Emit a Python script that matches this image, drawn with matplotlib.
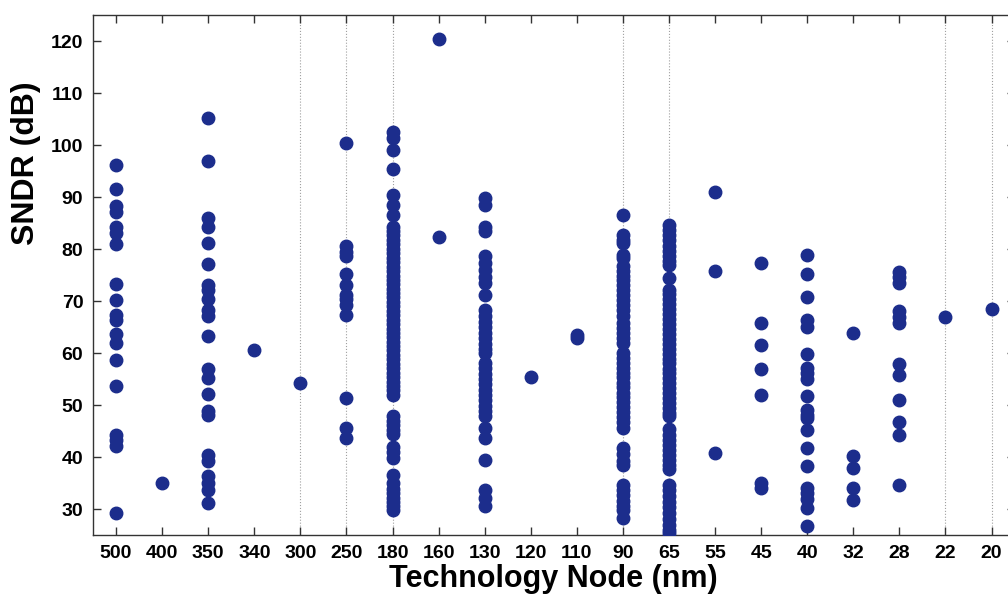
import matplotlib
matplotlib.use('Agg')
import matplotlib.pyplot as plt

plt.rcParams['font.family'] = ['Liberation Sans', 'DejaVu Sans']
plt.rcParams['font.weight'] = 'bold'

nodes = ['500', '400', '350', '340', '300', '250', '180', '160', '130', '120',
         '110', '90', '65', '55', '45', '40', '32', '28', '22', '20']
grid_nodes = ['300', '250', '180', '90', '65', '22', '20']

sndr_500 = [96.1, 91.5, 88.2, 87.2, 84.2, 83.1, 81.0, 73.3, 70.1, 67.4, 66.4, 63.7,
            62.0, 58.7, 53.7, 44.3, 43.3, 42.2, 29.2]
sndr_400 = [35.0]
sndr_350 = [105.2, 97.0, 86.0, 84.2, 81.2, 77.2, 73.1, 72.2, 70.3, 68.3, 67.1, 63.2,
            57.0, 55.2, 52.2, 48.8, 48.1, 40.4, 39.2, 36.3, 35.0, 33.7, 31.2]
sndr_340 = [60.5]
sndr_300 = [54.2]
sndr_250 = [100.4, 80.5, 79.5, 78.6, 75.2, 73.0, 71.2, 70.3, 69.3, 67.4, 51.3, 45.6, 43.7]
sndr_180 = [102.5, 101.3, 99.1, 95.3, 90.4, 88.5, 86.6, 84.3, 83.4, 82.6, 81.8, 80.9,
            80.0, 79.2, 78.3, 77.5, 76.6, 75.8, 74.9, 74.1, 73.2, 72.4, 71.5, 70.7,
            69.8, 69.0, 68.1, 67.3, 66.4, 65.6, 64.7, 63.9, 63.0, 62.2, 61.3, 60.5,
            59.6, 58.8, 57.9, 57.1, 56.2, 55.4, 54.5, 53.7, 52.8, 52.0, 47.8, 47.0,
            46.1, 45.2, 44.4, 42.0, 41.0, 39.9, 36.5, 35.0, 33.9, 33.0, 32.1, 31.3,
            30.5, 29.9]
sndr_160 = [120.3, 82.3]
sndr_130 = [89.8, 88.5, 84.3, 83.4, 78.6, 77.3, 76.0, 74.7, 73.5, 71.2, 68.3, 67.2,
            66.0, 65.0, 63.9, 62.8, 61.7, 60.8, 60.0, 58.1, 57.1, 56.0, 55.0, 54.0,
            52.9, 51.9, 50.9, 49.8, 48.8, 47.8, 45.6, 43.7, 39.5, 33.7, 32.1, 30.5]
sndr_120 = [55.4]
sndr_110 = [63.5, 62.9]
sndr_90 = [86.6, 82.7, 81.8, 81.2, 78.9, 78.3, 76.7, 75.8, 74.9, 74.0, 73.0, 72.1,
           71.1, 70.2, 69.3, 68.3, 67.2, 65.8, 64.8, 63.8, 62.8, 61.9, 60.0, 59.1,
           58.1, 57.2, 56.2, 55.3, 54.3, 53.4, 52.4, 51.5, 50.5, 49.6, 48.6, 47.7,
           46.7, 45.5, 41.7, 40.5, 39.3, 38.5, 34.7, 33.7, 32.6, 31.5, 30.5, 29.9, 28.3]
sndr_65 = [84.7, 83.7, 82.7, 81.7, 80.6, 79.6, 78.6, 77.6, 77.0, 74.4, 72.2, 71.3,
           70.3, 69.4, 68.4, 67.5, 66.5, 65.6, 64.6, 63.7, 62.7, 61.8, 60.8, 59.9,
           58.9, 58.0, 57.0, 56.1, 55.1, 54.2, 53.2, 52.3, 51.3, 50.4, 49.4, 48.5,
           47.8, 45.3, 44.3, 43.3, 42.4, 41.4, 40.4, 39.5, 38.5, 37.6, 34.7, 33.6,
           32.5, 31.4, 30.3, 29.2, 28.1, 27.0, 26.0, 25.4]
sndr_55 = [90.9, 75.8, 40.8]
sndr_45 = [77.3, 65.8, 61.5, 56.9, 52.0, 35.0, 34.0]
sndr_40 = [78.9, 75.2, 70.8, 66.4, 65.0, 59.8, 57.1, 56.2, 55.0, 51.8, 49.0, 48.1,
           47.5, 45.1, 41.7, 38.2, 34.0, 33.1, 32.0, 30.2, 26.8]
sndr_32 = [63.8, 40.1, 37.9, 34.0, 31.8]
sndr_28 = [75.6, 74.6, 73.5, 68.0, 66.9, 65.8, 57.9, 55.8, 50.9, 46.8, 44.3, 34.7]
sndr_22 = [66.9]
sndr_20 = [68.5]

columns = [sndr_500, sndr_400, sndr_350, sndr_340, sndr_300, sndr_250, sndr_180,
           sndr_160, sndr_130, sndr_120, sndr_110, sndr_90, sndr_65, sndr_55,
           sndr_45, sndr_40, sndr_32, sndr_28, sndr_22, sndr_20]

fig = plt.figure(figsize=(10.08, 5.99), dpi=100)
ax = fig.add_axes([93 / 1008, 64 / 599, 921.6 / 1008, 520 / 599])

for n in grid_nodes:
    ax.axvline(nodes.index(n) + 1, color='#a0a0a0', lw=0.8, ls=':', zorder=1)

for i, col in enumerate(columns):
    ax.plot([i + 1] * len(col), col, 'o', color='#1c2d8c', ms=9, mec='#1c2d8c', zorder=3)

ax.set_xlim(0.5, 20.5)
ax.set_ylim(25, 125)
ax.set_xticks(range(1, len(nodes) + 1))
ax.set_xticklabels(nodes)
ax.set_yticks(range(30, 121, 10))
ax.tick_params(direction='in', length=6, width=1, top=True, right=True,
               labelsize=14, pad=7, color='#333333')
for lab in ax.get_xticklabels() + ax.get_yticklabels():
    lab.set_fontweight('bold')
for sp in ax.spines.values():
    sp.set_color('#333333')
    sp.set_linewidth(1.0)

ax.set_xlabel('Technology Node (nm)', fontsize=22, fontweight='bold')
ax.xaxis.set_label_coords(0.5, -0.055)
ax.set_ylabel('SNDR (dB)', fontsize=23, fontweight='bold')
ax.yaxis.set_label_coords(-0.056, 0.715)

fig.savefig('out.png', dpi=100)
